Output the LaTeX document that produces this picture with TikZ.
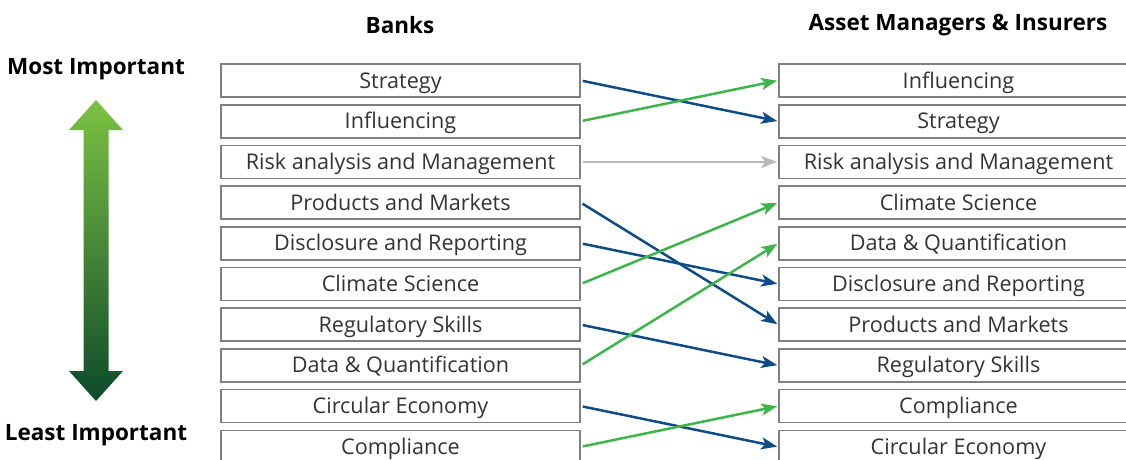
\documentclass[tikz,border=0pt]{standalone}
\usepackage{fontspec}
\setmainfont{Open Sans}
\usepackage{tikz}
\usetikzlibrary{arrows.meta,positioning,calc}
\definecolor{boxgray}{HTML}{808080}
\definecolor{linkblue}{HTML}{0D4C84}
\definecolor{linkgreen}{HTML}{3DB54A}
\definecolor{linkgray}{HTML}{B8BABB}
\definecolor{toplime}{HTML}{7DC243}
\definecolor{bottomgreen}{HTML}{0D4A2A}
\tikzset{skill/.style={draw=boxgray,line width=1.6pt,minimum width=359pt,minimum height=33pt,inner sep=0pt,text height=17.5pt,text depth=2.5pt,font=\fontsize{21.6}{24}\selectfont\color{black!80}}}
\tikzset{heading/.style={font=\fontsize{22.5}{26}\selectfont\bfseries}}
\tikzset{link/.style={line width=2.5pt,shorten <=2pt,shorten >=1pt}}

\begin{document}
\begin{tikzpicture}[x=1pt, y=-1pt, >={Stealth[length=16pt,width=12pt,inset=4pt]}]
        \useasboundingbox (0,0) rectangle (1126,459);
        % headings
        \node[heading] (banks) at (400,25) {Banks};
        \node[heading] (amis) at (958,25) {Asset Managers \& Insurers};
        \node[heading] (most) at (96,69) {Most Important};
        \node[heading] (least) at (96,435) {Least Important};
        % importance arrow
        \shade[top color=toplime, bottom color=bottomgreen]
          (96,100) -- (123,130) -- (108.5,130) -- (108.5,371) -- (123,371)
          -- (96,401) -- (69,371) -- (83.5,371) -- (83.5,130) -- (69,130) -- cycle;
        % banks
        \node[skill] (b1) at (400.5,80.5) {Strategy};
        \node[skill] (b2) at (400.5,121.2) {Influencing};
        \node[skill] (b3) at (400.5,161.9) {Risk analysis and Management};
        \node[skill] (b4) at (400.5,202.6) {Products and Markets};
        \node[skill] (b5) at (400.5,243.3) {Disclosure and Reporting};
        \node[skill] (b6) at (400.5,284) {Climate Science};
        \node[skill] (b7) at (400.5,324.7) {Regulatory Skills};
        \node[skill] (b8) at (400.5,365.4) {Data \& Quantification};
        \node[skill] (b9) at (400.5,406.1) {Circular Economy};
        \node[skill] (b10) at (400.5,446.8) {Compliance};
        % asset managers and insurers
        \node[skill] (a1) at (958.5,80.5) {Influencing};
        \node[skill] (a2) at (958.5,121.2) {Strategy};
        \node[skill] (a3) at (958.5,161.9) {Risk analysis and Management};
        \node[skill] (a4) at (958.5,202.6) {Climate Science};
        \node[skill] (a5) at (958.5,243.3) {Data \& Quantification};
        \node[skill] (a6) at (958.5,284) {Disclosure and Reporting};
        \node[skill] (a7) at (958.5,324.7) {Products and Markets};
        \node[skill] (a8) at (958.5,365.4) {Regulatory Skills};
        \node[skill] (a9) at (958.5,406.1) {Compliance};
        \node[skill] (a10) at (958.5,446.8) {Circular Economy};
        % links
        \draw[->,link,linkblue] (b1.east) -- (a2.west);
        \draw[->,link,linkgreen] (b2.east) -- (a1.west);
        \draw[->,link,linkgray] (b3.east) -- (a3.west);
        \draw[->,link,linkblue] (b4.east) -- (a7.west);
        \draw[->,link,linkblue] (b5.east) -- (a6.west);
        \draw[->,link,linkgreen] (b6.east) -- (a4.west);
        \draw[->,link,linkblue] (b7.east) -- (a8.west);
        \draw[->,link,linkgreen] (b8.east) -- (a5.west);
        \draw[->,link,linkblue] (b9.east) -- (a10.west);
        \draw[->,link,linkgreen] (b10.east) -- (a9.west);
\end{tikzpicture}
\end{document}
